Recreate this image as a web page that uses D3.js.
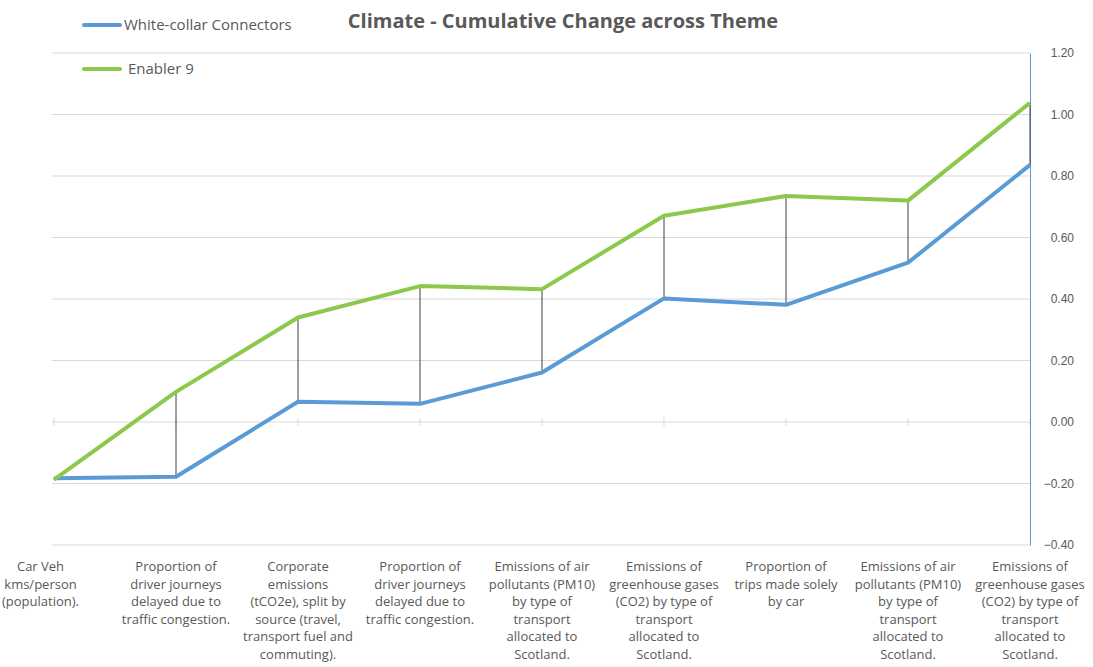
<!DOCTYPE html>
<html>
<head>
<meta charset="utf-8">
<script src="https://cdn.jsdelivr.net/npm/d3@7"></script>
<style>
  body { margin: 0; background: #fff; }
  svg { display: block; font-family: "Open Sans", "Noto Sans", sans-serif; }
</style>
</head>
<body>
<div id="chart"></div>
<script>
// categories (line breaks as in the original axis labels)
const categories = [
  "Car Veh\nkms/person\n(population).",
  "Proportion of\ndriver journeys\ndelayed due to\ntraffic congestion.",
  "Corporate\nemissions\n(tCO2e), split by\nsource (travel,\ntransport fuel and\ncommuting).",
  "Proportion of\ndriver journeys\ndelayed due to\ntraffic congestion.",
  "Emissions of air\npollutants (PM10)\nby type of\ntransport\nallocated to\nScotland.",
  "Emissions of\ngreenhouse gases\n(CO2) by type of\ntransport\nallocated to\nScotland.",
  "Proportion of\ntrips made solely\nby car",
  "Emissions of air\npollutants (PM10)\nby type of\ntransport\nallocated to\nScotland.",
  "Emissions of\ngreenhouse gases\n(CO2) by type of\ntransport\nallocated to\nScotland."
];
const whiteCollar = [-0.183, -0.178, 0.066, 0.059, 0.161, 0.402, 0.381, 0.518, 0.836];
const enabler9 = [-0.187, 0.098, 0.340, 0.442, 0.432, 0.671, 0.735, 0.720, 1.038];
const yTicks = [-0.40, -0.20, 0.00, 0.20, 0.40, 0.60, 0.80, 1.00, 1.20];

const series = [
  {name: "White-collar Connectors", values: whiteCollar, color: "#5b9bd5"},
  {name: "Enabler 9", values: enabler9, color: "#8cc84b"}
];

const width = 1093, height = 667;
const svg = d3.select("#chart").append("svg").attr("width", width).attr("height", height);

const x = d3.scalePoint().domain(d3.range(categories.length)).range([54, 1030]);
const y = d3.scaleLinear().domain([-0.4, 1.2]).range([545, 53]);

// gridlines
svg.append("g").selectAll("line").data(yTicks).enter().append("line")
  .attr("x1", 52).attr("x2", 1030)
  .attr("y1", d => y(d)).attr("y2", d => y(d))
  .attr("stroke", "#d9d9d9").attr("stroke-width", 1);

// category ticks on the zero line
svg.append("g").selectAll("line").data(d3.range(categories.length)).enter().append("line")
  .attr("x1", d => x(d)).attr("x2", d => x(d))
  .attr("y1", y(0) - 4).attr("y2", y(0) + 4)
  .attr("stroke", "#d9d9d9");

// right axis
const yAxis = svg.append("g").attr("transform", "translate(1030,0)")
  .call(d3.axisRight(y).tickValues(yTicks).tickSize(0).tickFormat(d3.format(".2f")));
yAxis.select(".domain").attr("stroke", "#5b9bd5").attr("stroke-width", 1);
yAxis.selectAll("text").attr("x", 44).attr("text-anchor", "end")
  .attr("fill", "#595959").style("font-size", "12px");

// high-low lines
svg.append("g").selectAll("line").data(d3.range(categories.length)).enter().append("line")
  .attr("x1", i => x(i)).attr("x2", i => x(i))
  .attr("y1", i => y(Math.max(whiteCollar[i], enabler9[i])))
  .attr("y2", i => y(Math.min(whiteCollar[i], enabler9[i])))
  .attr("stroke", "#404040").attr("stroke-width", 1);

// series lines
const line = d3.line().x((d, i) => x(i)).y(d => y(d));
series.forEach(s => {
  svg.append("path").datum(s.values)
    .attr("d", line).attr("fill", "none")
    .attr("stroke", s.color).attr("stroke-width", 4)
    .attr("stroke-linejoin", "round");
});

// x labels
const labelY = 571;
const labels = svg.append("g").selectAll("text").data(categories).enter().append("text")
  .attr("text-anchor", "middle").attr("fill", "#595959").style("font-size", "13px")
  .attr("transform", (d, i) => `translate(${x(i)},${labelY})`);
labels.each(function(d) {
  const t = d3.select(this);
  d.split("\n").forEach((ln, k) => {
    t.append("tspan").attr("x", 0).attr("dy", k === 0 ? 0 : 17.5).text(ln);
  });
});
labels.each(function(d, i) {
  const b = this.getBBox();
  const cx = x(i);
  let shift = 0;
  if (i === 0) shift = 2 - (cx + b.x);
  if (cx + b.x + b.width > width - 2) shift = (width - 2) - (cx + b.x + b.width);
  d3.select(this).attr("transform", `translate(${cx + shift},${labelY})`);
});

// title
svg.append("text").attr("x", 563).attr("y", 28).attr("text-anchor", "middle")
  .attr("fill", "#595959").style("font-size", "20px").style("font-weight", "bold")
  .text("Climate - Cumulative Change across Theme");

// legend
const legend = svg.append("g").selectAll("g").data(series).enter().append("g")
  .attr("transform", (d, i) => `translate(84,${i === 0 ? 25 : 69})`);
legend.append("line").attr("x1", 0).attr("x2", 36)
  .attr("stroke", d => d.color).attr("stroke-width", 4).attr("stroke-linecap", "round");
legend.append("text").attr("x", (d, i) => i === 0 ? 40 : 44).attr("dy", "0.35em")
  .attr("fill", "#595959").style("font-size", "15px").text(d => d.name);
</script>
</body>
</html>
